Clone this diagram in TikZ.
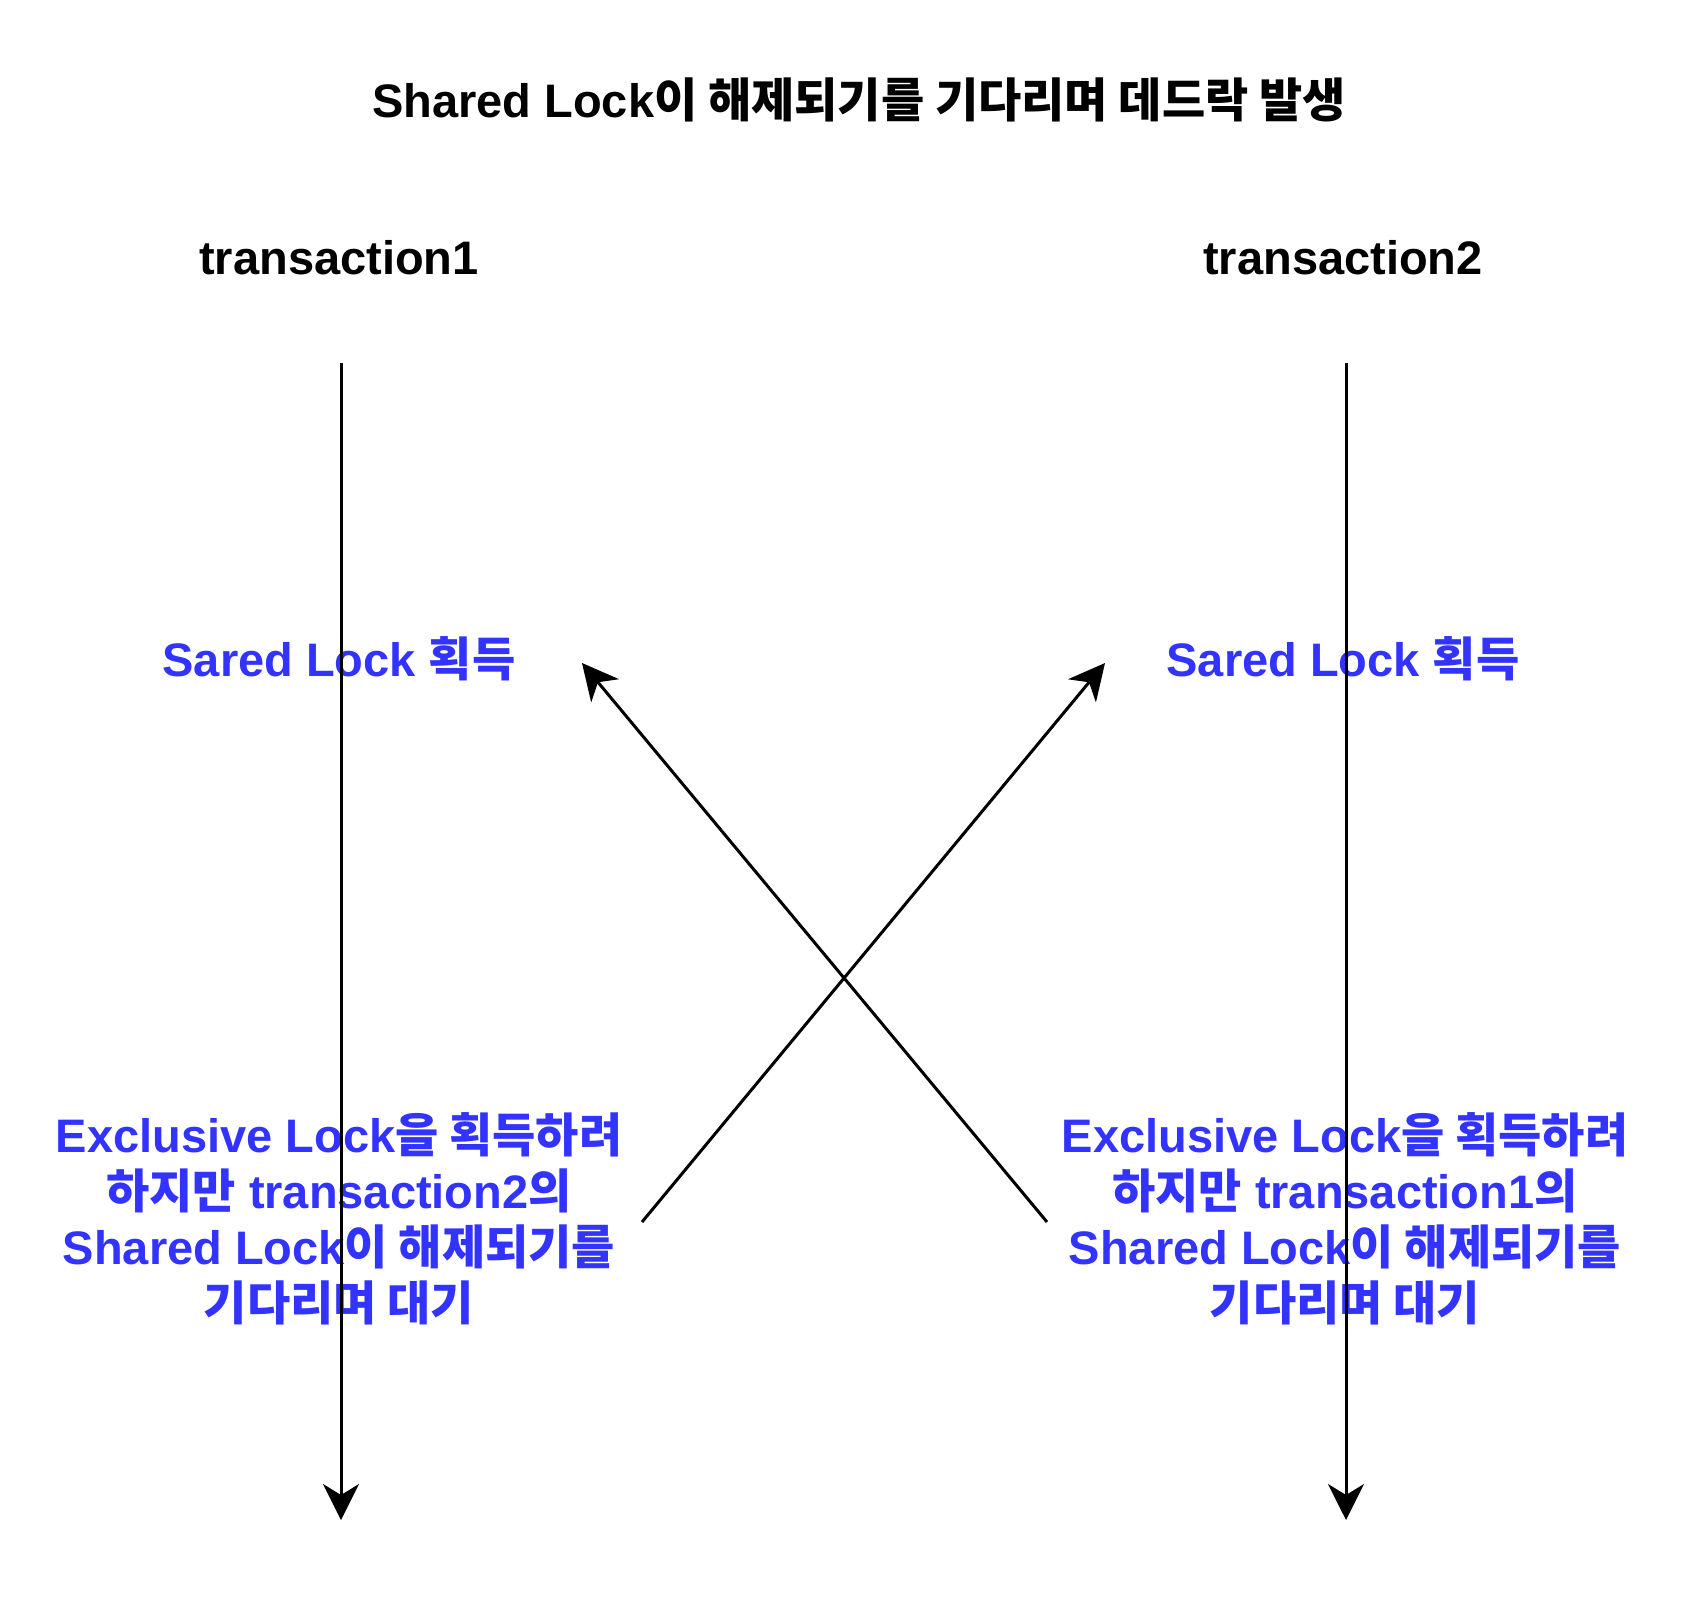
\documentclass[tikz,border=0pt]{standalone}
\usepackage{fontspec}
\setmainfont{Liberation Sans}
\newfontfamily\krfont{Noto Sans CJK KR}[Scale=1.0]
\newcommand{\K}[1]{{\krfont #1}}
\usetikzlibrary{arrows.meta}
\definecolor{lockblue}{HTML}{3333FF}
\begin{document}
\begin{tikzpicture}[x=1pt,y=-1pt,
  titletext/.style={font=\fontsize{47}{56}\selectfont\bfseries, text=black, inner sep=0pt},
  bluetext/.style={font=\fontsize{47}{56}\selectfont\bfseries, text=lockblue, align=center, inner sep=0pt},
  flow/.style={line width=3pt, -{Stealth[length=36pt,width=36pt,inset=11pt]}}]
\useasboundingbox[fill=white] (0,0) rectangle (1688,1596);
\node[titletext] (title) at (859,100) {Shared Lock\K{이 해제되기를 기다리며 데드락 발생}};
\node[titletext] (tx1) at (339,258) {transaction1};
\node[titletext] (tx2) at (1343,258) {transaction2};
\node[bluetext] (s1) at (339,659) {Sared Lock \K{획득}};
\node[bluetext] (s2) at (1343,659) {Sared Lock \K{획득}};
\node[bluetext] (e1) at (339,1219) {Exclusive Lock\K{을 획득하려}\\\K{하지만} transaction2\K{의}\\Shared Lock\K{이 해제되기를}\\\K{기다리며 대기}};
\node[bluetext] (e2) at (1345,1219) {Exclusive Lock\K{을 획득하려}\\\K{하지만} transaction1\K{의}\\Shared Lock\K{이 해제되기를}\\\K{기다리며 대기}};
\coordinate (l1top) at (341,363);
\coordinate (l1bot) at (341,1520);
\coordinate (l2top) at (1346,363);
\coordinate (l2bot) at (1346,1520);
\coordinate (a1s) at (642,1222);
\coordinate (a1e) at (1105,663);
\coordinate (a2s) at (1047,1222);
\coordinate (a2e) at (582,663);
\draw[flow] (l1top) -- (l1bot);
\draw[flow] (l2top) -- (l2bot);
\draw[flow] (a1s) -- (a1e);
\draw[flow] (a2s) -- (a2e);
\end{tikzpicture}
\end{document}
